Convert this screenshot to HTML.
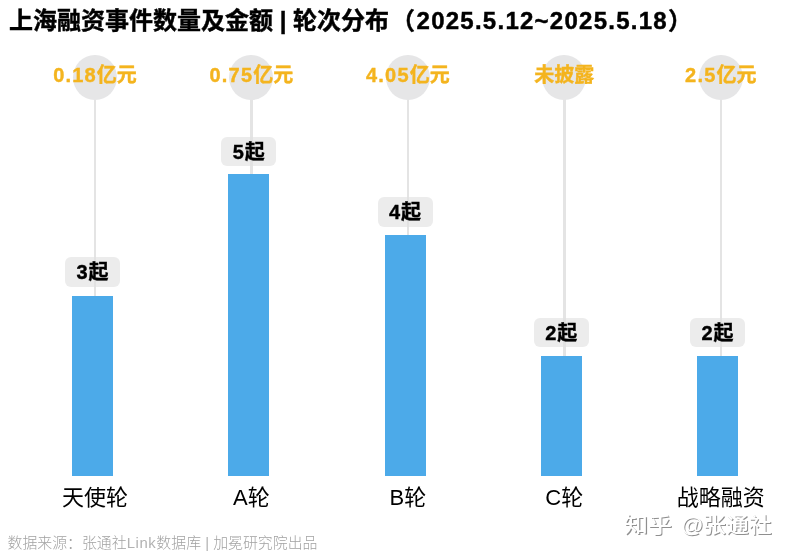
<!DOCTYPE html>
<html lang="zh-CN">
<head>
<meta charset="utf-8">
<title>上海融资事件数量及金额</title>
<style>
html,body{margin:0;padding:0;background:#fff;}
body{width:792px;height:558px;position:relative;overflow:hidden;font-family:"Liberation Sans","Noto Sans CJK SC",sans-serif;color:#000;}
.abs{position:absolute;white-space:nowrap;}
#title{left:9px;top:3.5px;-webkit-text-stroke:0.45px #000;font-size:24px;font-weight:bold;line-height:34px;color:#000;}
.tn{letter-spacing:1.25px;margin-left:1.5px;}
.d{letter-spacing:1.2px;}
.badge .d{letter-spacing:0.8px;}
.circle{width:44px;height:45.5px;border-radius:50%;background:#e6e6e7;margin-left:-22px;top:54.7px;}
.stem{width:2.5px;background:#e4e4e4;margin-left:-1.25px;top:99px;}
.val{font-size:20px;font-weight:bold;color:#f4b41e;-webkit-text-stroke:0.4px #f4b41e;transform:translateX(-50%);top:62.2px;line-height:26px;}
.bar{background:#4caae9;width:41px;margin-left:-20.5px;}
.badge{width:55px;height:29.5px;margin-left:-27.5px;background:rgba(224,224,224,0.62);border-radius:6px;text-align:center;font-size:20px;font-weight:bold;-webkit-text-stroke:0.4px #000;line-height:31.4px;color:#000;}
.lab{font-size:22px;transform:translateX(-50%);top:483.2px;line-height:30px;}
#foot{left:7.5px;top:531.8px;font-size:14.9px;font-weight:300;color:#a2a2a2;line-height:22px;}
.wm{top:508.5px;font-size:21px;line-height:32px;color:#fff;text-shadow:1px 1px 0.6px #8f8f8f;font-weight:500;transform-origin:0 50%;}
</style>
</head>
<body>
<div id="title" class="abs">上海融资事件数量及金额 | 轮次分布<span style="margin-left:2px">（</span><span class="tn">2025.5.12~2025.5.18</span>）</div>

<!-- stems -->
<div class="abs stem" style="left:95px;height:197px"></div>
<div class="abs stem" style="left:251.4px;height:75px"></div>
<div class="abs stem" style="left:407.9px;height:136px"></div>
<div class="abs stem" style="left:564.3px;height:257px"></div>
<div class="abs stem" style="left:720.8px;height:257px"></div>

<!-- circles -->
<div class="abs circle" style="left:95px"></div>
<div class="abs circle" style="left:251.4px"></div>
<div class="abs circle" style="left:407.9px"></div>
<div class="abs circle" style="left:564.3px"></div>
<div class="abs circle" style="left:720.8px"></div>

<!-- values -->
<div class="abs val" style="left:95px"><span class="d">0.18</span>亿元</div>
<div class="abs val" style="left:251.4px"><span class="d">0.75</span>亿元</div>
<div class="abs val" style="left:407.9px"><span class="d">4.05</span>亿元</div>
<div class="abs val" style="left:564.3px">未披露</div>
<div class="abs val" style="left:720.8px"><span class="d">2.5</span>亿元</div>

<!-- bars -->
<div class="abs bar" style="left:92.5px;top:296.4px;height:180.1px"></div>
<div class="abs bar" style="left:248.75px;top:174.4px;height:302.1px"></div>
<div class="abs bar" style="left:405px;top:235.4px;height:241.1px"></div>
<div class="abs bar" style="left:561.25px;top:356.4px;height:120.1px"></div>
<div class="abs bar" style="left:717.5px;top:356.4px;height:120.1px"></div>

<!-- badges -->
<div class="abs badge" style="left:92.5px;top:257px"><span class="d">3</span>起</div>
<div class="abs badge" style="left:248.75px;top:136.5px"><span class="d">5</span>起</div>
<div class="abs badge" style="left:405px;top:197px"><span class="d">4</span>起</div>
<div class="abs badge" style="left:561.25px;top:317.5px"><span class="d">2</span>起</div>
<div class="abs badge" style="left:717.5px;top:317.5px"><span class="d">2</span>起</div>

<!-- labels -->
<div class="abs lab" style="left:95px">天使轮</div>
<div class="abs lab" style="left:251.4px">A轮</div>
<div class="abs lab" style="left:407.9px">B轮</div>
<div class="abs lab" style="left:564.3px">C轮</div>
<div class="abs lab" style="left:720.8px">战略融资</div>

<div id="foot" class="abs">数据来源：张通社<span style="letter-spacing:0.6px;color:#b2b2b2">Link</span>数据库 <span style="color:#b2b2b2">|</span> 加冕研究院出品</div>
<div class="abs wm" style="left:624px;transform:scaleX(1.14)">知乎</div><div class="abs wm" style="left:680.5px;transform:scaleX(1.06)">@</div><div class="abs wm" style="left:703px;transform:scaleX(1.09)">张通社</div>
</body>
</html>
